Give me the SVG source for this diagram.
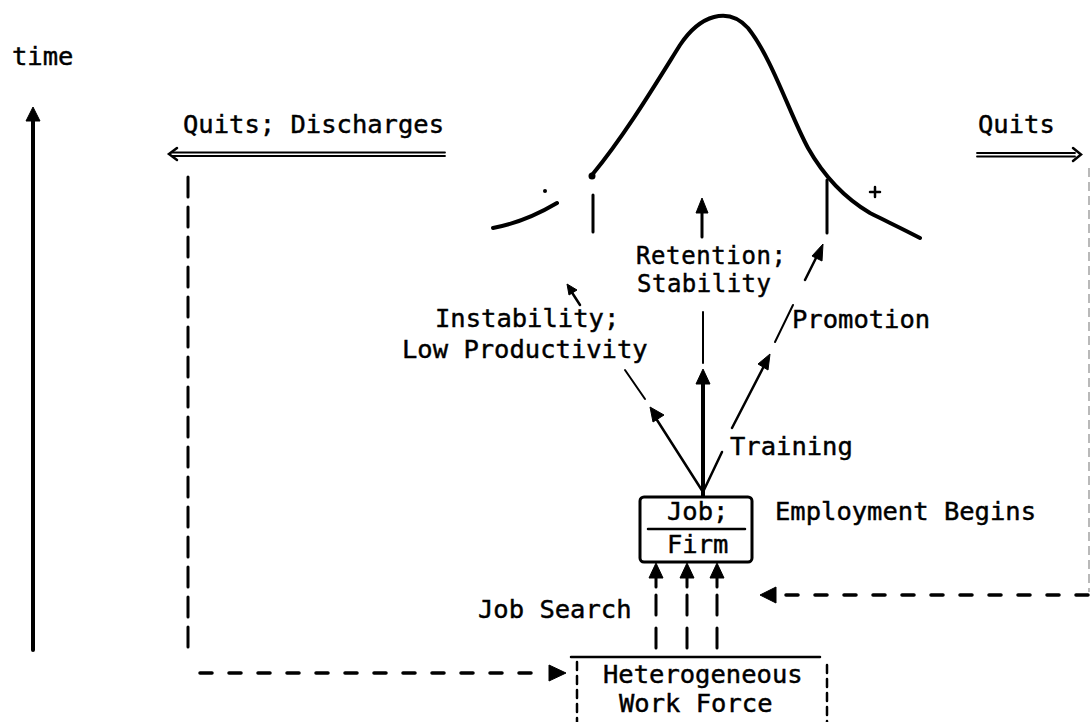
<svg xmlns="http://www.w3.org/2000/svg" width="1091" height="722" viewBox="0 0 1091 722">
<style>
text{font-family:"DejaVu Sans Mono","Liberation Mono",monospace;font-size:25.5px;fill:#000;stroke:#000;stroke-width:0.45}
.sm{font-size:24px}
.ln{stroke:#000;fill:none;stroke-linecap:round}
.th{stroke-width:2.5}
.tk{stroke-width:4}
.dsh{stroke-dasharray:20 10;stroke-width:3}
.dh{stroke-dasharray:12 17;stroke-width:3.5}
.ah{fill:#000;stroke:#000;stroke-width:1;stroke-linejoin:round}
</style>
<rect width="1091" height="722" fill="#fff"/>

<g id="time-axis">
<text x="12" y="65">time</text>
<line class="ln tk" x1="33" y1="118" x2="33" y2="650"/>
<path class="ah" d="M33,107 L40,121 L26,121 Z"/>
</g>

<g id="distribution">
<path class="ln" stroke-width="4" d="M592,175 C625,135 655,85 680,45 C700,15 728,6 748,28 C772,58 790,115 808,148 C825,178 848,200 870,213 C890,223 905,230 920,238"/>
<circle cx="592" cy="176" r="3.5"/>
<path class="ln" stroke-width="4" d="M493,228 Q525,222 557,203"/>
<circle cx="545" cy="191" r="2"/>
<line class="ln" stroke-width="3" x1="593" y1="195" x2="593" y2="232"/>
<line class="ln" stroke-width="3" x1="827" y1="180" x2="827" y2="233"/>
<path class="ln" stroke-width="2.5" d="M875,187 V197 M870,192 H880"/>
</g>

<g id="quits-discharges">
<text x="183" y="133">Quits; Discharges</text>
</g>
<g id="quits">
<text x="978" y="133">Quits</text>
</g>
<g id="retention">
<text class="sm" x="636" y="264" textLength="150">Retention;</text>
<text class="sm" x="637" y="292" textLength="134">Stability</text>
</g>
<g id="instability">
<text x="435" y="327">Instability;</text>
<text x="402" y="358">Low Productivity</text>
</g>
<g id="promotion">
<text x="792" y="328">Promotion</text>
</g>
<g id="training">
<text x="730" y="455">Training</text>
</g>
<g id="job-firm">
<rect x="640" y="497" width="112" height="65" rx="4" fill="none" stroke="#000" stroke-width="3"/>
<text x="667" y="520">Job;</text>
<line class="ln" stroke-width="2.5" x1="648" y1="529" x2="745" y2="529"/>
<text x="667" y="553">Firm</text>
</g>
<g id="employment-begins">
<text x="775" y="520">Employment Begins</text>
</g>
<g id="job-search">
<text x="478" y="618">Job Search</text>
</g>
<g id="work-force">
<line class="ln th" x1="571" y1="657" x2="820" y2="657"/>
<line class="ln" stroke-width="2.5" stroke-dasharray="8 6" x1="577" y1="662" x2="577" y2="722"/>
<line class="ln" stroke-width="2.5" stroke-dasharray="8 6" x1="827" y1="665" x2="827" y2="722"/>
<text x="603" y="683">Heterogeneous</text>
<text x="619" y="712">Work Force</text>
</g>

<g id="connectors">
<line class="ln" stroke-width="1.8" x1="172" y1="152.5" x2="445" y2="152.5"/>
<line class="ln" stroke-width="1.8" x1="172" y1="156" x2="445" y2="156"/>
<path class="ln" stroke-width="2.5" d="M177,148 L169,154 L177,160"/>
<line class="ln" stroke-width="1.8" x1="977" y1="153" x2="1075" y2="153"/>
<line class="ln" stroke-width="1.8" x1="977" y1="156.5" x2="1075" y2="156.5"/>
<path class="ln" stroke-width="2.5" d="M1073,148 L1081,154.5 L1073,161"/>
<line class="ln dsh" x1="188" y1="177" x2="188" y2="650"/>
<line class="ln dh" x1="200" y1="673" x2="548" y2="673"/>
<path class="ah" d="M566,673 L549,665 L549,681 Z"/>
<line stroke="#a8a8a8" stroke-width="1.6" stroke-dasharray="9 5" x1="1089" y1="168" x2="1089" y2="592"/>
<line class="ln dh" x1="1088" y1="595" x2="780" y2="595"/>
<path class="ah" d="M760,595 L776,587 L776,603 Z"/>
<g>
<line class="ln" stroke-width="3" stroke-dasharray="20 13" x1="656" y1="595" x2="656" y2="655"/>
<line class="ln" stroke-width="3" x1="656" y1="575" x2="656" y2="587"/>
<path class="ah" d="M656,563 L663,578 L649,578 Z"/>
<line class="ln" stroke-width="3" stroke-dasharray="20 13" x1="687" y1="595" x2="687" y2="655"/>
<line class="ln" stroke-width="3" x1="687" y1="575" x2="687" y2="587"/>
<path class="ah" d="M687,563 L694,578 L680,578 Z"/>
<line class="ln" stroke-width="3" stroke-dasharray="20 13" x1="717" y1="595" x2="717" y2="655"/>
<line class="ln" stroke-width="3" x1="717" y1="575" x2="717" y2="587"/>
<path class="ah" d="M717,563 L724,578 L710,578 Z"/>
</g>
<line class="ln tk" x1="703" y1="496" x2="703" y2="380"/>
<path class="ah" d="M703,369 L710,384 L696,384 Z"/>
<line class="ln" stroke-width="2" x1="703" y1="312" x2="703" y2="363"/>
<line class="ln" stroke-width="3" x1="702" y1="237" x2="702" y2="208"/>
<path class="ah" d="M702,198 L708,213 L696,213 Z"/>
<line class="ln" stroke-width="2.5" x1="703" y1="492" x2="657" y2="420"/>
<path class="ah" d="M650,407 L664,415 L653,422 Z"/>
<line class="ln" stroke-width="2" x1="645" y1="399" x2="625" y2="370"/>
<line class="ln" stroke-width="2.5" x1="580" y1="305" x2="571" y2="291"/>
<path class="ah" d="M567,284 L577,290 L569,295 Z"/>
<line class="ln" stroke-width="2.5" x1="703" y1="492" x2="722" y2="452"/>
<line class="ln" stroke-width="2.5" x1="732" y1="428" x2="765" y2="364"/>
<path class="ah" d="M770,354 L768,370 L758,364 Z"/>
<line class="ln" stroke-width="2" x1="775" y1="342" x2="793" y2="305"/>
<line class="ln" stroke-width="2.5" x1="805" y1="280" x2="818" y2="254"/>
<path class="ah" d="M823,244 L822,261 L812,256 Z"/>
</g>
</svg>
